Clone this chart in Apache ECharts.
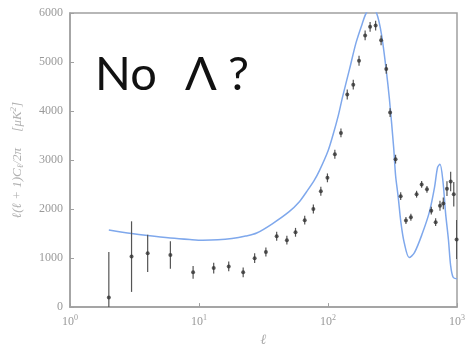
<!DOCTYPE html>
<html>
<head>
<meta charset="utf-8">
<script src="https://cdn.jsdelivr.net/npm/echarts@6/dist/echarts.min.js"></script>
<style>
  html, body { margin: 0; padding: 0; background: #fff; }
  #chart { width: 469px; height: 352px; }
</style>
</head>
<body>
<div id="chart"></div>
<script>
// Measured band powers: multipole, power [μK²], 1σ error
const ells = [2, 3, 4, 6, 9, 13, 17, 22, 27, 33, 40, 48, 56, 66, 77, 88, 99, 113, 126, 141, 157, 174, 194, 212, 234, 258, 283, 303, 334, 366, 402, 439, 486, 532, 585, 632, 683, 738, 783, 836, 893, 944, 993];
const power = [195, 1030, 1098, 1064, 709, 797, 829, 709, 998, 1124, 1446, 1365, 1526, 1773, 2002, 2363, 2637, 3119, 3554, 4337, 4538, 5026, 5542, 5717, 5743, 5442, 4859, 3968, 3018, 2263, 1767, 1833, 2303, 2503, 2403, 1967, 1733, 2068, 2114, 2416, 2563, 2303, 1379];
const errors = [930, 720, 380, 280, 130, 110, 100, 100, 100, 90, 90, 90, 90, 90, 90, 90, 90, 90, 90, 100, 100, 100, 100, 100, 100, 100, 100, 90, 90, 80, 70, 70, 70, 70, 70, 80, 80, 100, 120, 150, 200, 250, 400];

// Model spectrum without a cosmological constant
const modelEll = [2, 3, 4, 6, 8.5, 10.7, 14, 18, 23, 28, 37, 50, 60, 68, 78, 86, 100, 109, 120, 130, 147, 165, 185, 198, 218, 238, 260, 282, 299, 323, 334, 350, 368, 390, 426, 468, 540, 612, 670, 707, 738, 777, 816, 858, 893, 933, 1000];
const modelPower = [1571, 1500, 1459, 1410, 1379, 1365, 1372, 1399, 1450, 1511, 1700, 1947, 2150, 2348, 2580, 2790, 3185, 3500, 3900, 4300, 4859, 5395, 5796, 6000, 6120, 6000, 5560, 4859, 4255, 3251, 2690, 2248, 1713, 1311, 1010, 1110, 1511, 1947, 2448, 2850, 2916, 2583, 1913, 1379, 843, 608, 576];

// Axis ticks
const yTicks = [0, 1000, 2000, 3000, 4000, 5000, 6000];
const xTickExponents = [0, 1, 2, 3];

const gray = '#a0a0a0';
const labelGray = '#9a9a9a';

const pointData = ells.map((l, i) => [l, power[i]]);
const errData = ells.map((l, i) => [l, power[i] - errors[i], power[i] + errors[i]]);
const modelData = modelEll.map((l, i) => [l, modelPower[i]]);

const chart = echarts.init(document.getElementById('chart'), null, { renderer: 'canvas' });

chart.setOption({
  backgroundColor: '#fff',
  animation: false,
  grid: {
    left: 70, right: 12, top: 13, bottom: 40,
    show: true, borderColor: gray, borderWidth: 1.5, backgroundColor: 'transparent'
  },
  xAxis: {
    type: 'log',
    logBase: 10,
    min: Math.pow(10, xTickExponents[0]),
    max: Math.pow(10, xTickExponents[xTickExponents.length - 1]),
    name: 'ℓ',
    nameLocation: 'middle',
    nameGap: 25,
    nameTextStyle: { fontFamily: 'Liberation Serif', fontStyle: 'italic', fontSize: 14, color: '#aaa' },
    axisLine: { lineStyle: { color: gray, width: 1.5 } },
    axisTick: { inside: true, length: 4, lineStyle: { color: gray } },
    splitLine: { show: false },
    axisLabel: {
      margin: 7,
      color: labelGray,
      fontFamily: 'Liberation Serif',
      fontSize: 12,
      formatter: v => '10{s|' + Math.round(Math.log10(v)) + '}',
      rich: { s: { fontSize: 8, color: labelGray, fontFamily: 'Liberation Serif', verticalAlign: 'top', padding: [0, 0, 8, 0] } }
    }
  },
  yAxis: {
    type: 'value',
    min: yTicks[0],
    max: yTicks[yTicks.length - 1],
    interval: yTicks[1] - yTicks[0],
    name: 'ℓ(ℓ + 1)C{sub|ℓ}/2π     [μK{sup|2}]',
    nameLocation: 'middle',
    nameRotate: 90,
    nameGap: 44,
    nameTextStyle: {
      fontFamily: 'Liberation Serif', fontStyle: 'italic', fontSize: 13, color: '#b0b0b0',
      rich: {
        sub: { fontSize: 9, color: '#b0b0b0', fontFamily: 'Liberation Serif', fontStyle: 'italic', padding: [6, 0, 0, 0] },
        sup: { fontSize: 9, color: '#b0b0b0', fontFamily: 'Liberation Serif', fontStyle: 'italic', padding: [0, 0, 8, 0] }
      }
    },
    axisLine: { show: true, lineStyle: { color: gray, width: 1.5 } },
    axisTick: { show: true, inside: true, length: 4, lineStyle: { color: gray } },
    splitLine: { show: false },
    axisLabel: { margin: 7, color: labelGray, fontFamily: 'Liberation Serif', fontSize: 12, formatter: v => String(v) }
  },
  series: [
    {
      type: 'line',
      data: modelData,
      smooth: 0.3,
      showSymbol: false,
      clip: true,
      lineStyle: { color: '#7fa8ec', width: 1.5 },
      z: 2
    },
    {
      type: 'custom',
      clip: true,
      data: errData,
      renderItem: (params, api) => {
        const lo = api.coord([api.value(0), api.value(1)]);
        const hi = api.coord([api.value(0), api.value(2)]);
        return {
          type: 'line',
          shape: { x1: lo[0], y1: lo[1], x2: hi[0], y2: hi[1] },
          style: { stroke: '#555', lineWidth: 1.2 }
        };
      },
      z: 3
    },
    {
      type: 'scatter',
      data: pointData,
      symbol: 'circle',
      symbolSize: 4,
      itemStyle: { color: '#333' },
      z: 4
    }
  ],
  graphic: [
    { type: 'text', left: 95, top: 51, style: { text: 'No', font: '47px Lato, "Open Sans", sans-serif', fill: '#111' } },
    { type: 'text', left: 185, top: 51, style: { text: 'Λ', font: '47px Lato, "Open Sans", "DejaVu Sans", sans-serif', fill: '#111' } },
    { type: 'text', left: 228, top: 51, style: { text: '?', font: '47px Lato, "Open Sans", sans-serif', fill: '#111' } }
  ]
});
</script>
</body>
</html>
